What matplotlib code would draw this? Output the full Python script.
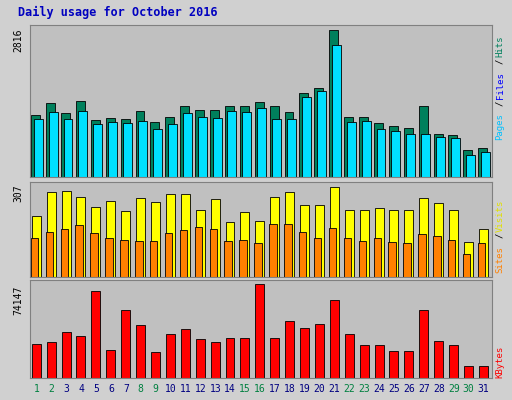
import matplotlib
matplotlib.use("Agg")
import matplotlib.pyplot as plt
import numpy as np

days = list(range(1, 32))
weekend = [1, 2, 8, 9, 15, 16, 22, 23, 29, 30]
hits = [1188,1418,1226,1456,1092,1130,1111,1265,1054,1150,1360,1284,1284,1360,1360,1437,1360,1245,1609,1705,2816,1150,1150,1035,977,939,1360,824,805,517,556]
files = [1111,1245,1111,1265,1015,1054,1035,1073,920,1015,1226,1150,1130,1265,1245,1322,1111,1111,1533,1648,2529,1054,1073,920,881,824,824,766,747,422,479]
visits = [208,290,293,273,239,259,225,269,256,280,280,228,266,188,222,191,273,290,246,246,307,228,228,235,228,228,269,252,228,119,164]
sites = [133,153,164,177,150,133,126,123,123,150,160,170,164,123,126,116,181,181,153,133,167,133,123,133,119,116,147,140,126,78,116]
kbytes = [27100,28700,35900,32700,68500,22300,53400,41400,20700,34300,38300,30300,28700,31100,31100,74147,31100,44600,39100,42200,61400,34300,26300,26300,21500,21500,53400,29500,26300,9600,9600]

W, H = 512, 400
fig = plt.figure(figsize=(W/100, H/100), dpi=100, facecolor='#D0D0D0')
mono = 'DejaVu Sans Mono'
fig.text(18/W, 1-12/H, 'Daily usage for October 2016', color='#0000C0', fontsize=8.5,
         fontweight='bold', family=mono, va='center')

def panel(top, bot):
    ax = fig.add_axes([30/W, 1-bot/H, 462/W, (bot-top)/H])
    ax.set_facecolor('#C0C0C0')
    ax.set_xlim(0.5, 31.5)
    ax.set_xticks([]); ax.set_yticks([])
    for s in ax.spines.values():
        s.set_color('#808080')
    return ax

x = np.array(days)
def bars(ax, vals, off, w, color):
    ax.bar(x + off, vals, w, color=color, edgecolor='black', linewidth=0.6)

ax1 = panel(25, 177)
bars(ax1, hits, -0.12, 0.6, '#00805C')
bars(ax1, files, 0.05, 0.6, '#00E0FF')
ax1.set_ylim(0, 2816 * 1.035)
fig.text(18/W, 1-40/H, '2816', rotation=90, fontsize=7, family=mono, ha='center', va='center')

ax2 = panel(182, 277)
bars(ax2, visits, -0.08, 0.6, '#FFFF00')
bars(ax2, sites, -0.2, 0.5, '#FF8000')
ax2.set_ylim(0, 307 * 1.05)
fig.text(18/W, 1-193/H, '307', rotation=90, fontsize=7, family=mono, ha='center', va='center')

ax3 = panel(280, 378)
bars(ax3, kbytes, -0.08, 0.6, '#FF0000')
ax3.set_ylim(0, 74147 * 1.04)
fig.text(18/W, 1-300/H, '74147', rotation=90, fontsize=7, family=mono, ha='center', va='center')

for d in days:
    xp = (30 + (d - 0.5) / 31 * 462 - 1) / W
    fig.text(xp, 1-389/H, str(d), fontsize=7, family=mono, ha='center', va='center',
             color='#008040' if d in weekend else '#000080')

def rlabel(y, parts):
    yy = y
    for t, c in parts:
        fig.text(500/W, 1-yy/H, t, rotation=90, fontsize=6.5, family=mono, color=c,
                 ha='center', va='bottom')
        yy -= len(t) * 6.9
rlabel(140, [('Pages', '#00C0FF'), ('/', '#000000'), ('Files', '#0000FF'), ('/', '#000000'), ('Hits', '#00805C')])
rlabel(273, [('Sites', '#FF8000'), ('/', '#000000'), ('Visits', '#E0E000')])
rlabel(378, [('KBytes', '#FF0000')])

fig.savefig('out.png', dpi=100, facecolor=fig.get_facecolor())
